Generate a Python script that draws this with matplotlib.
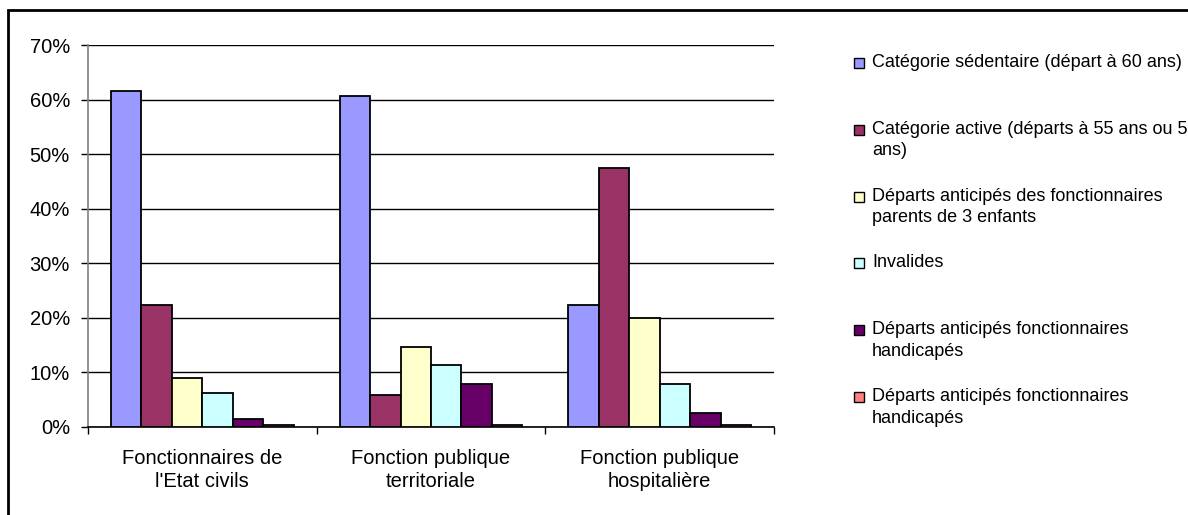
import matplotlib
matplotlib.use("Agg")
import matplotlib.pyplot as plt
import matplotlib.patches as mpatches
import matplotlib.ticker as ticker
import numpy as np

plt.rcParams["font.family"] = ["Liberation Sans", "DejaVu Sans"]

categories = ["Fonctionnaires de\nl'Etat civils",
              "Fonction publique\nterritoriale",
              "Fonction publique\nhospitalière"]
series_labels = ["Catégorie sédentaire (départ à 60 ans)",
                 "Catégorie active (départs à 55 ans ou 50\nans)",
                 "Départs anticipés des fonctionnaires\nparents de 3 enfants",
                 "Invalides",
                 "Départs anticipés fonctionnaires\nhandicapés",
                 "Départs anticipés fonctionnaires\nhandicapés"]
sedentaire = [0.616, 0.607, 0.223]
active = [0.224, 0.058, 0.474]
parents = [0.090, 0.146, 0.200]
invalides = [0.062, 0.114, 0.078]
handicapes = [0.014, 0.078, 0.026]
handicapes_bis = [0.003, 0.003, 0.003]
series = [sedentaire, active, parents, invalides, handicapes, handicapes_bis]
colors = ["#9999FF", "#993366", "#FFFFCC", "#CCFFFF", "#660066", "#FF8080"]
yticks = [0, 0.1, 0.2, 0.3, 0.4, 0.5, 0.6, 0.7]

W, H = 1188, 515
fig = plt.figure(figsize=(W / 100, H / 100), dpi=100)
ax = fig.add_axes([88 / W, 1 - 427 / H, (774 - 88) / W, (427 - 45) / H])

n = len(series)
width = 1 / (n + 1.5)
x = np.arange(len(categories))
for i, (vals, col) in enumerate(zip(series, colors)):
    ax.bar(x + (i - (n - 1) / 2) * width, vals, width, color=col,
           edgecolor="black", linewidth=1.3, zorder=3)

ax.set_xlim(-0.5, len(categories) - 0.5)
ax.set_ylim(0, 0.7)
ax.set_yticks(yticks)
ax.yaxis.set_major_formatter(ticker.PercentFormatter(1.0, decimals=0))
ax.yaxis.grid(True, color="black", linewidth=1.0, zorder=0)
ax.tick_params(axis="y", length=5, width=1, pad=8, labelsize=14.5)

ax.set_xticks(x)
ax.set_xticklabels(categories, fontsize=14.5, linespacing=1.25)
ax.set_xticks(np.arange(len(categories) + 1) - 0.5, minor=True)
ax.tick_params(axis="x", which="major", length=0, pad=16)
ax.tick_params(axis="x", which="minor", length=5, width=1)

for s in ["top", "right"]:
    ax.spines[s].set_visible(False)
ax.spines["left"].set_color("#808080")
ax.spines["left"].set_linewidth(1.2)
ax.spines["bottom"].set_color("black")
ax.spines["bottom"].set_linewidth(1.2)

# legend laid out on evenly spaced rows, handle beside the first line
top, step = 63, 66.8
for i, (lab, col) in enumerate(zip(series_labels, colors)):
    yc = top + i * step
    fig.add_artist(mpatches.Rectangle((854 / W, 1 - (yc + 5) / H), 10 / W, 10 / H,
                                      transform=fig.transFigure, facecolor=col,
                                      edgecolor="black", linewidth=1.0))
    fig.text(872 / W, 1 - (yc - 9) / H, lab, fontsize=13, va="top", ha="left",
             linespacing=1.35)

# chart frame
fig.add_artist(mpatches.Rectangle((8 / W, -0.1), 1.2, 1.1 - 10 / H,
                                  transform=fig.transFigure, fill=False,
                                  edgecolor="black", linewidth=2))

fig.savefig("out.png", dpi=100)
